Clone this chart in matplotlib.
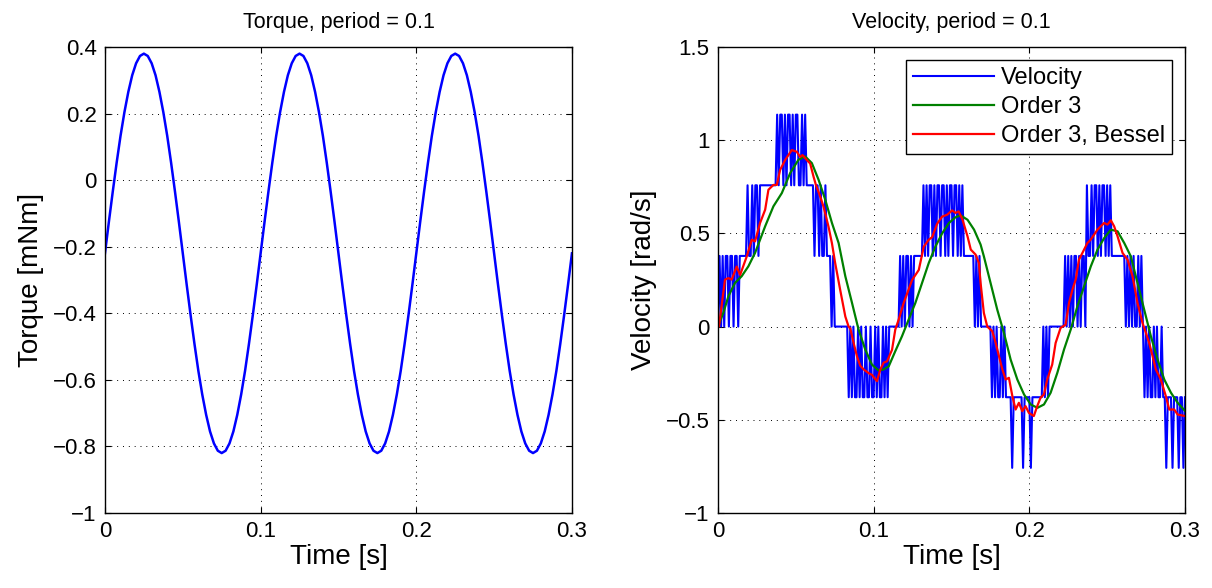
# -*- coding: utf-8 -*-
# torque / velocity chart, period = 0.1
import matplotlib
matplotlib.use("Agg")
import matplotlib.pyplot as plt
import numpy as np

plt.rcParams['font.family'] = ['Liberation Sans', 'DejaVu Sans']

# torque sampled every 2.5 ms (0 .. 0.3 s)
torque_dt = 0.0025
torque = [
    -0.22, -0.126, -0.035, 0.052, 0.133, 0.204, 0.265, 0.315, 0.351, 0.373,
    0.38, 0.373, 0.351, 0.315, 0.265, 0.204, 0.133, 0.052, -0.035, -0.126,
    -0.22, -0.314, -0.405, -0.492, -0.573, -0.644, -0.705, -0.755, -0.791, -0.813,
    -0.82, -0.813, -0.791, -0.755, -0.705, -0.644, -0.573, -0.492, -0.405, -0.314,
    -0.22, -0.126, -0.035, 0.052, 0.133, 0.204, 0.265, 0.315, 0.351, 0.373,
    0.38, 0.373, 0.351, 0.315, 0.265, 0.204, 0.133, 0.052, -0.035, -0.126,
    -0.22, -0.314, -0.405, -0.492, -0.573, -0.644, -0.705, -0.755, -0.791, -0.813,
    -0.82, -0.813, -0.791, -0.755, -0.705, -0.644, -0.573, -0.492, -0.405, -0.314,
    -0.22, -0.126, -0.035, 0.052, 0.133, 0.204, 0.265, 0.315, 0.351, 0.373,
    0.38, 0.373, 0.351, 0.315, 0.265, 0.204, 0.133, 0.052, -0.035, -0.126,
    -0.22, -0.314, -0.405, -0.492, -0.573, -0.644, -0.705, -0.755, -0.791, -0.813,
    -0.82, -0.813, -0.791, -0.755, -0.705, -0.644, -0.573, -0.492, -0.405, -0.314,
    -0.22,
]

# measured velocity: encoder counts per 1 ms sample (quantum q rad/s)
vel_dt = 0.001
vel_q = 0.379
vel_counts = [
    0, 1, 0, 1, 0, 1, 1, 0, 1, 1,
    0, 1, 1, 0, 1, 1, 1, 1, 1, 2,
    1, 1, 2, 1, 2, 2, 1, 2, 2, 2,
    2, 2, 2, 2, 2, 2, 2, 2, 3, 2,
    3, 3, 2, 3, 2, 3, 3, 2, 3, 2,
    3, 3, 2, 2, 3, 2, 3, 2, 2, 2,
    2, 2, 1, 2, 2, 1, 2, 1, 1, 2,
    1, 1, 1, 0, 1, 0, 0, 0, 0, 0,
    0, 0, 0, 0, -1, 0, -1, 0, -1, -1,
    0, -1, 0, -1, -1, 0, -1, -1, 0, -1,
    -1, 0, -1, 0, -1, -1, 0, -1, 0, -1,
    0, 0, 0, 0, 0, 0, 0, 1, 0, 1,
    0, 1, 1, 0, 1, 0, 1, 1, 1, 1,
    1, 1, 2, 1, 2, 1, 2, 2, 1, 2,
    1, 2, 2, 1, 2, 2, 1, 2, 1, 2,
    2, 1, 2, 2, 1, 2, 1, 2, 1, 1,
    1, 1, 1, 1, 1, 0, 1, 0, 1, 0,
    0, 0, 0, 0, 0, 0, -1, 0, -1, 0,
    -1, -1, 0, -1, 0, -1, -1, -1, -1, -2,
    -1, -1, -1, -1, -1, -1, -2, -1, -1, -1,
    -1, -2, -1, -1, -1, -1, -1, -1, -1, 0,
    -1, 0, -1, 0, 0, 0, 0, 0, 0, 0,
    0, 0, 0, 1, 0, 1, 0, 1, 0, 1,
    1, 0, 1, 0, 1, 1, 0, 2, 1, 1,
    2, 1, 2, 2, 1, 2, 1, 2, 2, 1,
    2, 1, 2, 1, 1, 1, 1, 1, 1, 1,
    1, 1, 0, 1, 0, 1, 0, 1, 0, 0,
    1, 0, 1, 0, -1, 0, -1, 0, -1, -1,
    0, -1, 0, -1, -1, 0, -1, -1, -2, -1,
    -1, -1, -2, -1, -1, -1, -2, -1, -1, -2,
    -1,
]

# order 3 filter output (time in ms, value in rad/s)
order3_t = [0, 3.4, 6.7, 10.9, 15.2, 19.5, 23.8, 30.3, 35.6, 41.0, 46.4, 51.7,
            56.0, 60.3, 64.6, 68.9, 73.2, 77.5, 81.8, 86.1, 90.3, 94.6, 98.9,
            103.2, 106.4, 109.7, 113.9, 118.2, 122.5, 126.8, 131.1, 135.4,
            139.7, 144.0, 148.3, 152.3, 155.8, 160.3, 164.5, 168.7, 170.8,
            175.1, 179.4, 183.7, 188.0, 192.3, 196.6, 200.9, 205.2, 209.4,
            213.7, 218.0, 222.3, 226.6, 230.9, 235.2, 239.5, 243.8, 248.1,
            252.4, 256.7, 261.0, 265.2, 269.5, 273.8, 278.1, 282.4, 286.7,
            291.0, 295.3, 300.0]
order3_v = [0, 0.073, 0.163, 0.234, 0.27, 0.323, 0.395, 0.538, 0.645, 0.716,
            0.824, 0.895, 0.913, 0.877, 0.788, 0.681, 0.556, 0.448, 0.27,
            0.127, -0.016, -0.123, -0.204, -0.236, -0.23, -0.213, -0.132,
            -0.052, 0.038, 0.127, 0.234, 0.341, 0.43, 0.5, 0.555, 0.585, 0.597,
            0.573, 0.52, 0.44, 0.377, 0.234, 0.091, -0.034, -0.177, -0.284,
            -0.364, -0.418, -0.436, -0.418, -0.355, -0.248, -0.123, -0.016,
            0.109, 0.216, 0.323, 0.413, 0.475, 0.52, 0.511, 0.448, 0.377, 0.234,
            0.091, -0.052, -0.177, -0.284, -0.355, -0.409, -0.452]

# order 3 Bessel filter output (time in ms, value in rad/s)
bessel_t = [0, 0.6, 4.5, 6.7, 8.8, 12.0, 14.2, 18.5, 21.7, 23.8, 27.0, 30.3,
            32.4, 35.6, 37.8, 39.9, 43.1, 47.4, 50.6, 52.8, 54.3, 57.1, 59.2,
            61.4, 62.9, 65.7, 67.8, 71.0, 73.2, 75.3, 78.5, 81.8, 83.9, 85.0,
            87.1, 89.3, 91.4, 93.6, 96.8, 98.9, 102.1, 104.3, 106.4, 108.6,
            111.8, 113.9, 116.1, 119.3, 124.7, 129.0, 132.2, 135.4, 137.6,
            140.8, 144.0, 147.2, 150.4, 152.6, 154.6, 157.1, 160.3, 162.4,
            165.5, 167.6, 168.7, 170.8, 173.0, 176.2, 178.4, 180.5, 182.7,
            184.8, 186.9, 189.1, 191.2, 193.3, 195.5, 197.6, 199.7, 202.9,
            205.1, 207.2, 209.4, 211.5, 214.7, 216.9, 220.1, 223.3, 225.5,
            227.7, 229.8, 231.9, 234.1, 237.3, 239.4, 241.6, 243.8, 245.9,
            248.1, 250.2, 252.4, 254.5, 256.7, 259.9, 263.1, 266.3, 269.5,
            272.7, 274.9, 277.0, 279.2, 281.3, 284.5, 287.7, 289.9, 293.1,
            295.3, 300.0]
bessel_v = [0, 0, 0.252, 0.26, 0.252, 0.322, 0.277, 0.377, 0.466, 0.457, 0.555,
            0.627, 0.734, 0.76, 0.76, 0.84, 0.893, 0.947, 0.938, 0.91, 0.92,
            0.893, 0.875, 0.804, 0.76, 0.697, 0.643, 0.536, 0.447, 0.34, 0.197,
            0.054, 0.0, -0.01, -0.087, -0.16, -0.21, -0.23, -0.25, -0.259,
            -0.293, -0.23, -0.194, -0.186, -0.125, -0.016, 0.038, 0.127, 0.25,
            0.304, 0.429, 0.466, 0.48, 0.552, 0.59, 0.6, 0.623, 0.61, 0.618,
            0.573, 0.484, 0.413, 0.386, 0.341, 0.234, 0.073, 0.0, -0.025,
            -0.088, -0.159, -0.23, -0.284, -0.275, -0.373, -0.445, -0.409,
            -0.454, -0.427, -0.463, -0.48, -0.427, -0.382, -0.364, -0.284,
            -0.204, -0.088, -0.007, 0.01, 0.127, 0.198, 0.252, 0.359, 0.395,
            0.448, 0.466, 0.493, 0.52, 0.538, 0.556, 0.547, 0.57, 0.538, 0.484,
            0.395, 0.359, 0.27, 0.127, 0.02, -0.034, -0.088, -0.159, -0.23,
            -0.284, -0.373, -0.445, -0.445, -0.472, -0.48]

legend_labels = ['Velocity', 'Order 3', 'Order 3, Bessel']

t_torque = np.arange(len(torque)) * torque_dt
t_vel = np.arange(len(vel_counts)) * vel_dt
vel = np.array(vel_counts) * vel_q

fig = plt.figure(figsize=(12.12, 5.88), dpi=100)
ax1 = fig.add_axes([0.0866, 0.1276, 0.3853, 0.7925])
ax2 = fig.add_axes([0.5924, 0.1276, 0.3853, 0.7925])


def style(ax):
    ax.grid(True, color='black', linestyle=(0, (1, 5)), linewidth=0.7)
    ax.tick_params(direction='in', top=True, right=True, length=4,
                   width=0.8, labelsize=16, pad=6)
    for s in ax.spines.values():
        s.set_linewidth(1.0)
    ax.set_xlim(0, 0.3)
    ax.set_xticks([0, 0.1, 0.2, 0.3])
    ax.set_xticklabels(['0', '0.1', '0.2', '0.3'])
    ax.set_xlabel('Time [s]', fontsize=20, labelpad=1)


ax1.plot(t_torque, torque, color='#0000ff', linewidth=1.8)
style(ax1)
ax1.set_ylim(-1, 0.4)
ax1.set_yticks(np.arange(-1, 0.41, 0.2))
ax1.set_yticklabels(['\u22121', '\u22120.8', '\u22120.6', '\u22120.4', '\u22120.2', '0', '0.2', '0.4'])
ax1.set_ylabel('Torque [mNm]', fontsize=20, labelpad=6)
ax1.set_title('Torque, period = 0.1', fontsize=15.5, pad=14)

ax2.plot(t_vel, vel, color='#0000ff', linewidth=1.5, label=legend_labels[0])
ax2.plot(np.array(order3_t) / 1000, order3_v, color='#008000', linewidth=1.6,
         label=legend_labels[1])
ax2.plot(np.array(bessel_t) / 1000, bessel_v, color='#ff0000', linewidth=1.6,
         label=legend_labels[2])
style(ax2)
ax2.set_ylim(-1, 1.5)
ax2.set_yticks([-1, -0.5, 0, 0.5, 1, 1.5])
ax2.set_yticklabels(['\u22121', '\u22120.5', '0', '0.5', '1', '1.5'])
ax2.set_ylabel('Velocity [rad/s]', fontsize=20, labelpad=6)
ax2.set_title('Velocity, period = 0.1', fontsize=15.5, pad=14)
leg = ax2.legend(loc='upper right', fontsize=17, fancybox=False,
                 edgecolor='black', framealpha=1, handlelength=3.4,
                 handletextpad=0.3, labelspacing=0.3, borderaxespad=0.55,
                 borderpad=0.3)
leg.get_frame().set_linewidth(1.0)

plt.savefig('out.png', dpi=100)
